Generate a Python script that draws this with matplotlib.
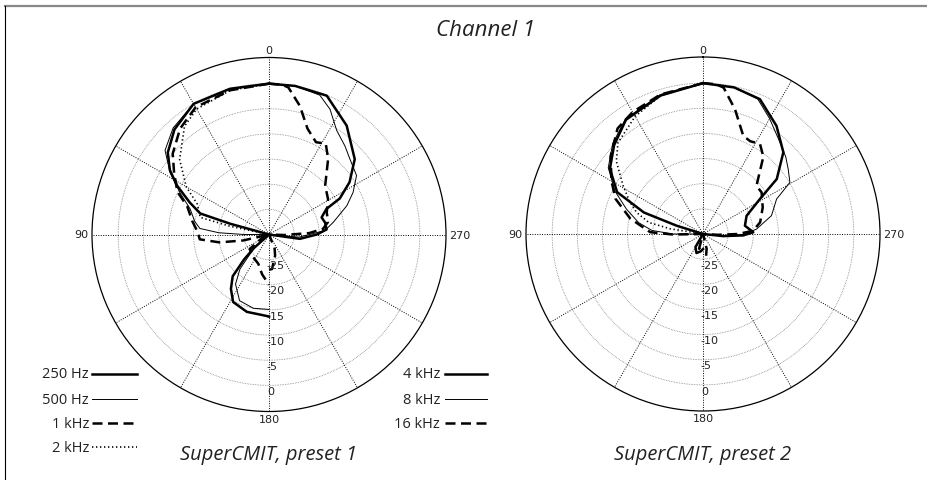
## polar pattern plots, SuperCMIT channel 1

import numpy as np
import matplotlib
matplotlib.use('Agg')
import matplotlib.pyplot as plt
from matplotlib.lines import Line2D

# level in dB vs angle in degrees
# low bands: angle counted towards 90 (left half)
# high bands: angle counted towards 270 (right half)

# preset 1
p1_250_ang = [0, 15, 30, 42, 51, 57, 62, 68, 73, 74.5, 76, 128, 132, 135, 139, 145, 152, 164, 180]
p1_250_db = [0, 0, 0, -1.9, -4.1, -6.5, -9.3, -13, -15.7, -22, -30, -30, -26, -23, -19, -16.8, -14.8, -14, -13.7]
p1_500_ang = [0, 15, 30, 42, 51, 58, 65, 72, 80, 85, 88, 90, 92, 126, 132, 140, 146, 156, 168, 180]
p1_500_db = [0, 0, 0, -1.5, -3.4, -6.8, -10.5, -13.5, -15, -16.2, -20, -25, -30, -30, -26, -21, -18.1, -15.6, -15, -15.1]
p1_1k_ang = [0, 15, 30, 40, 50, 57, 65, 71, 80, 88, 94, 99, 103, 110, 120, 127, 145, 160, 170, 180]
p1_1k_db = [0, -0.3, -0.8, -2.5, -5, -7.5, -9.9, -12.8, -14.5, -15.8, -16.2, -20, -24.7, -30, -28, -25.2, -24.5, -23.8, -22, -20]
p1_2k_ang = [0, 15, 30, 38, 50, 60, 67, 76, 78, 80, 180]
p1_2k_db = [0, -0.3, -1.2, -2.7, -6.8, -11, -14.5, -15.9, -22, -30, -30]
p1_4k_ang = [0, 10, 22.6, 35.5, 48.7, 57, 63, 66, 72, 78, 85, 90, 98, 103, 180]
p1_4k_db = [0, 0, -0.1, -3.4, -7.3, -10.9, -14.2, -17.5, -19, -18.6, -18.5, -20.5, -23.8, -30, -30]
p1_8k_ang = [0, 10, 20, 26, 33, 40.6, 47, 56, 63.4, 69.7, 79.3, 86, 95, 100, 180]
p1_8k_db = [0, 0, -0.5, -2.3, -5.3, -6.8, -8, -9, -11.3, -13.5, -17, -18.9, -24, -30, -30]
p1_16k_ang = [0, 5, 7.5, 13.5, 20, 27, 32, 38, 49, 59, 69, 78, 84, 88, 92, 95, 150, 158, 164, 175, 180]
p1_16k_db = [0, -0.1, -0.5, -3.7, -7.6, -9.4, -8.7, -10.9, -15.2, -16.3, -17.7, -18, -19.2, -22, -27, -30, -30, -27, -25.6, -23.1, -23]

# preset 2
p2_250_ang = [0, 17, 34, 45, 55, 64, 70, 72.5, 74, 140, 150, 161, 172, 180]
p2_250_db = [0, -1.2, -2.6, -5, -7.4, -11, -17.5, -24.5, -30, -30, -27, -26, -26.5, -27]
p2_500_ang = [0, 17, 34, 45, 55, 64, 72, 80, 86, 90, 95, 180]
p2_500_db = [0, -1, -2.4, -4.6, -7, -10.5, -14, -17, -19.8, -24, -30, -30]
p2_1k_ang = [0, 17, 30, 39, 50, 60, 68, 78, 88, 91, 95, 150, 165, 180]
p2_1k_db = [0, -1, -2, -3, -6, -9, -11.2, -15.2, -19.5, -24, -30, -30, -27, -26.5]
p2_2k_ang = [0, 17, 30, 43, 50, 59, 66, 72, 78, 81, 84, 180]
p2_2k_db = [0, -1.2, -3, -5.2, -7.5, -11.5, -14, -16.1, -19, -23.4, -30, -30]
p2_4k_ang = [0, 12, 22.9, 34.2, 44.5, 53.3, 58.4, 67.3, 78.8, 88, 92, 96, 100, 180]
p2_4k_db = [0, -0.2, -0.9, -4, -7.2, -11.7, -16.7, -20.6, -21.5, -20, -22, -26, -30, -30]
p2_8k_ang = [0, 12, 22, 30, 40, 47, 52.7, 59.3, 64.6, 75, 84.7, 90, 95, 100, 180]
p2_8k_db = [0, -0.2, -1, -3.5, -6.2, -7.5, -8.7, -9.9, -13.8, -15.9, -19.3, -21.5, -25, -30, -30]
p2_16k_ang = [0, 5, 8, 14.4, 22.3, 27, 32.3, 38, 48, 54.6, 66, 78.4, 86.2, 90, 93, 96, 160, 166, 172, 180]
p2_16k_db = [0, -0.1, -0.6, -4.4, -8.9, -9.3, -8.8, -10.5, -15.7, -15.7, -17, -18.4, -20, -23, -27, -30, -30, -27, -25.6, -25.5]

ring_levels = [-25, -20, -15, -10, -5, 0]
low_labels = ['250 Hz', '500 Hz', '1 kHz', '2 kHz']
high_labels = ['4 kHz', '8 kHz', '16 kHz']

RMIN, RMAX = -30, 5.2

thick = dict(color='black', lw=1.8)
thin = dict(color='black', lw=0.7)
dash = dict(color='black', lw=1.8, dashes=(4, 2.2))
dots = dict(color='black', lw=1.2, dashes=(0.8, 1.6))
styles = [thick, thin, dash, dots]
hi_styles = [thick, thin, dash]

fig = plt.figure(figsize=(9.28, 4.81), dpi=100)

tick_font = dict(family='DejaVu Sans', fontsize=8, color='#222222')


def draw_polar(rect, low, high, name):
    ax = fig.add_axes(rect, projection='polar')
    ax.set_theta_zero_location('N')
    ax.set_theta_direction(1)
    ax.set_ylim(RMIN, RMAX)
    ax.grid(False)
    ax.set_xticks([])
    ax.set_yticks([])
    ax.spines['polar'].set_linewidth(0.9)
    full = np.linspace(0, 2 * np.pi, 361)
    for lv in ring_levels:
        ax.plot(full, np.full_like(full, lv), color='#777777', lw=0.6, dashes=(0.8, 1.2))
    for th in range(0, 360, 30):
        ax.plot([np.radians(th)] * 2, [RMIN, RMAX], color='black', lw=0.7, dashes=(1, 1.5))
    ax.annotate('0', (0, RMAX), xytext=(0, 1.5), textcoords='offset points',
                ha='center', va='bottom', **tick_font)
    ax.annotate('180', (np.pi, RMAX), xytext=(0, -1.5), textcoords='offset points',
                ha='center', va='top', **tick_font)
    ax.annotate('90', (np.pi / 2, RMAX), xytext=(-2.5, 0), textcoords='offset points',
                ha='right', va='center', **tick_font)
    ax.annotate('270', (3 * np.pi / 2, RMAX), xytext=(2.5, 0), textcoords='offset points',
                ha='left', va='center', **tick_font)
    for lv in ring_levels:
        ax.annotate(str(lv), (np.pi, lv), xytext=(-1.5, -0.5), textcoords='offset points',
                    ha='left', va='top', **tick_font)
    for (a, d), st in zip(low, styles):
        ax.plot(np.radians(a), d, **st)
    for (a, d), st in zip(high, hi_styles):
        ax.plot(-np.radians(a), d, **st)
    cx = rect[0] + rect[2] / 2
    fig.text(cx, 1 - 455 / 481, name, ha='center', va='center', fontsize=14.5,
             style='italic', family='Open Sans', color='#222222')
    return ax


w = 354 / 928
h = 354 / 481
draw_polar([(269 - 177) / 928, (481 - 235.5 - 177) / 481, w, h],
           [(p1_250_ang, p1_250_db), (p1_500_ang, p1_500_db), (p1_1k_ang, p1_1k_db), (p1_2k_ang, p1_2k_db)],
           [(p1_4k_ang, p1_4k_db), (p1_8k_ang, p1_8k_db), (p1_16k_ang, p1_16k_db)],
           'SuperCMIT, preset 1')
draw_polar([(703 - 177) / 928, (481 - 235 - 177) / 481, w, h],
           [(p2_250_ang, p2_250_db), (p2_500_ang, p2_500_db), (p2_1k_ang, p2_1k_db), (p2_2k_ang, p2_2k_db)],
           [(p2_4k_ang, p2_4k_db), (p2_8k_ang, p2_8k_db), (p2_16k_ang, p2_16k_db)],
           'SuperCMIT, preset 2')

fig.text(486 / 928, 1 - 30 / 481, 'Channel 1', ha='center', va='center', fontsize=16,
         style='italic', family='Open Sans', color='#222222')

# legends
leg_font = dict(family='Open Sans', fontsize=10.5, color='#222222', va='center')
rows = [375, 400, 424, 448]
for y_px, lab, st in zip(rows, low_labels, styles):
    y = 1 - y_px / 481
    fig.text(89 / 928, y, lab, ha='right', **leg_font)
    fig.add_artist(Line2D([92 / 928, 137 / 928], [y, y], **st))
for y_px, lab, st in zip(rows, high_labels, hi_styles):
    y = 1 - y_px / 481
    fig.text(440 / 928, y, lab, ha='right', **leg_font)
    fig.add_artist(Line2D([445 / 928, 487 / 928], [y, y], **st))

# frame
fig.add_artist(Line2D([5 / 928, 1], [1 - 7 / 481] * 2, color='#888888', lw=1.6))
fig.add_artist(Line2D([5 / 928] * 2, [0, 1 - 7 / 481], color='black', lw=0.8))

fig.savefig('out.png', dpi=100)
